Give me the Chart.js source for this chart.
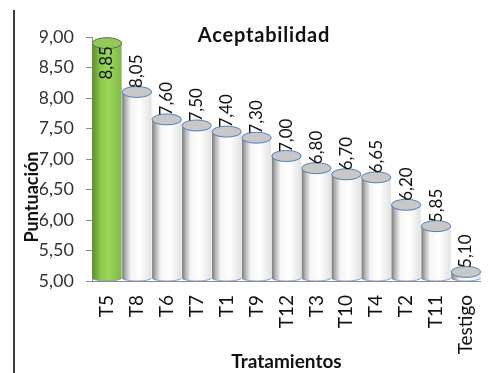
<!DOCTYPE html>
<html>
<head>
<meta charset="utf-8">
<title>Aceptabilidad</title>
<script src="https://cdn.jsdelivr.net/npm/chart.js"></script>
<style>
  body { margin: 0; background: #fff; }
  #wrap { position: relative; width: 503px; height: 373px; }
  #edge { position: absolute; left: 13px; top: 10px; width: 2px; height: 363px; background: #3c3c3c; }
  canvas { position: absolute; left: 0; top: 0; }
</style>
</head>
<body>
<div id="wrap">
  <div id="edge"></div>
  <canvas id="myChart" width="503" height="373"></canvas>
</div>
<script>
// values
const categories = ['T5', 'T8', 'T6', 'T7', 'T1', 'T9', 'T12', 'T3', 'T10', 'T4', 'T2', 'T11', 'Testigo'];
const scores = [8.85, 8.05, 7.60, 7.50, 7.40, 7.30, 7.00, 6.80, 6.70, 6.65, 6.20, 5.85, 5.10];
const yTicks = [5.0, 5.5, 6.0, 6.5, 7.0, 7.5, 8.0, 8.5, 9.0];
const highlighted = ['T5'];

const FONT = 'Lato, "Open Sans", sans-serif';
const fmt = v => Number(v).toFixed(2).replace('.', ',');

// draws each bar as a shaded cylinder with a grey cap
const cylinders = {
    id: 'cylinders',
    afterDatasetsDraw(chart) {
        const ctx = chart.ctx;
        const yScale = chart.scales.y;
        const base = yScale.getPixelForValue(yScale.min);
        const meta = chart.getDatasetMeta(0);
        meta.data.forEach((bar, i) => {
            const green = highlighted.includes(categories[i]);
            const w = bar.width;
            const l = bar.x - w / 2, r = bar.x + w / 2;
            const top = bar.y - 3;
            const ry = 5.5, rb = 3;

            const g = ctx.createLinearGradient(l, 0, r, 0);
            if (green) {
                g.addColorStop(0, '#5f8f2c');
                g.addColorStop(0.3, '#8cc94c');
                g.addColorStop(0.55, '#9bd858');
                g.addColorStop(1, '#7fb845');
            } else {
                g.addColorStop(0, '#7a7a7a');
                g.addColorStop(0.12, '#b4b4b4');
                g.addColorStop(0.3, '#f6f6f6');
                g.addColorStop(0.6, '#ffffff');
                g.addColorStop(1, '#e2e2e2');
            }

            ctx.save();
            ctx.fillStyle = g;
            ctx.beginPath();
            ctx.moveTo(l, top);
            ctx.lineTo(l, base - rb);
            ctx.ellipse(bar.x, base - rb, w / 2, rb, 0, Math.PI, 0, true);
            ctx.lineTo(r, top);
            ctx.closePath();
            ctx.fill();

            ctx.strokeStyle = '#6f93c4';
            ctx.lineWidth = 0.8;
            ctx.beginPath();
            ctx.ellipse(bar.x, base - rb, w / 2, rb, 0, Math.PI, 0, true);
            ctx.stroke();

            // cap
            ctx.beginPath();
            ctx.ellipse(bar.x, top, w / 2, ry, 0, 0, Math.PI * 2);
            ctx.fillStyle = green ? '#93c95a' : '#c8c8c8';
            ctx.fill();
            ctx.strokeStyle = green ? '#5c6e4a' : '#4f7fbd';
            ctx.lineWidth = 1;
            ctx.stroke();
            ctx.restore();
        });
    }
};

// rotated value labels, plus chart and y-axis titles
const labels = {
    id: 'labels',
    afterDatasetsDraw(chart) {
        const ctx = chart.ctx;
        const area = chart.chartArea;
        const meta = chart.getDatasetMeta(0);
        ctx.save();
        ctx.font = '17px ' + FONT;
        ctx.fillStyle = '#111';
        ctx.textBaseline = 'middle';
        meta.data.forEach((bar, i) => {
            const text = fmt(scores[i]);
            const tw = ctx.measureText(text).width;
            ctx.save();
            ctx.translate(bar.x, bar.y);
            ctx.rotate(-Math.PI / 2);
            if (bar.y - 7 - tw < area.top) {
                ctx.textAlign = 'right';
                ctx.fillText(text, 0, 0);
            } else {
                ctx.textAlign = 'left';
                ctx.fillText(text, 7, 0);
            }
            ctx.restore();
        });

        ctx.font = 'bold 20px ' + FONT;
        ctx.letterSpacing = '0.8px';
        ctx.textAlign = 'center';
        ctx.fillText('Aceptabilidad', 264, 36);
        ctx.letterSpacing = '0px';

        ctx.font = 'bold 18px ' + FONT;
        ctx.translate(32, 197);
        ctx.rotate(-Math.PI / 2);
        ctx.fillText('Puntuación', 0, 0);
        ctx.restore();
    }
};

const ctx = document.getElementById('myChart').getContext('2d');
new Chart(ctx, {
    type: 'bar',
    data: {
        labels: categories,
        datasets: [{
            data: scores,
            backgroundColor: 'rgba(0,0,0,0)',
            borderWidth: 0,
            barPercentage: 0.98,
            categoryPercentage: 1
        }]
    },
    options: {
        responsive: false,
        animation: false,
        layout: { padding: { left: 40, right: 6, top: 37, bottom: 0 } },
        plugins: {
            legend: { display: false },
            tooltip: { enabled: false }
        },
        scales: {
            x: {
                grid: { display: false, drawTicks: false },
                border: { display: true, color: '#8c8c8c', z: 1 },
                ticks: {
                    minRotation: 90, maxRotation: 90, padding: 14,
                    color: '#111', font: { family: FONT, size: 19 }
                },
                title: {
                    display: true, text: 'Tratamientos', color: '#111',
                    font: { family: FONT, size: 19, weight: 'bold' },
                    padding: { top: 0, bottom: 0 }
                },
                afterFit(s) { s.height = 92; }
            },
            y: {
                min: 5, max: 9,
                afterBuildTicks(s) { s.ticks = yTicks.map(v => ({ value: v })); },
                ticks: {
                    padding: 12, color: '#333',
                    font: { family: FONT, size: 18 },
                    callback: v => fmt(v)
                },
                grid: { drawOnChartArea: false, tickLength: 6, color: '#8c8c8c' },
                border: { color: '#8c8c8c' },
                afterFit(s) { s.width = 52; }
            }
        }
    },
    plugins: [cylinders, labels]
});
</script>
</body>
</html>
